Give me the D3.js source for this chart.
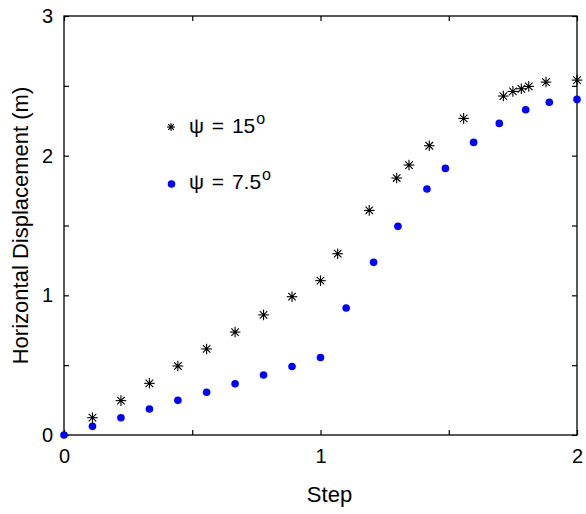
<!DOCTYPE html>
<html>
<head>
<meta charset="utf-8">
<script src="https://cdn.jsdelivr.net/npm/d3@7"></script>
<style>
  body { margin: 0; background: #fff; }
  text { font-family: "Liberation Sans", Arial, sans-serif; fill: #000; }
</style>
</head>
<body>
<div id="chart"></div>
<script>
// step values (x) and horizontal displacement (y)
const stepsPsi15 = [0.111, 0.222, 0.333, 0.444, 0.556, 0.667, 0.778, 0.889, 1.0,
                    1.067, 1.19, 1.297, 1.345, 1.424, 1.558, 1.713, 1.75, 1.783, 1.812, 1.879, 2.0];
const dispPsi15 = [0.124, 0.246, 0.370, 0.494, 0.616, 0.737, 0.860, 0.99, 1.105,
                   1.298, 1.608, 1.84, 1.933, 2.071, 2.267, 2.427, 2.46, 2.479, 2.496, 2.527, 2.541];

const stepsPsi75 = [0, 0.111, 0.222, 0.333, 0.444, 0.556, 0.667, 0.778, 0.889, 1.0,
                    1.1, 1.207, 1.302, 1.415, 1.487, 1.597, 1.697, 1.8, 1.892, 2.0];
const dispPsi75 = [0, 0.062, 0.124, 0.186, 0.248, 0.306, 0.367, 0.430, 0.490, 0.555,
                   0.909, 1.236, 1.494, 1.761, 1.909, 2.095, 2.231, 2.329, 2.382, 2.403];

const xTicks = [0, 0.5, 1, 1.5, 2];
const yTicks = [0, 0.5, 1, 1.5, 2, 2.5, 3];

const margin = { top: 16, right: 9, bottom: 79, left: 64 };
const width = 586 - margin.left - margin.right;
const height = 514 - margin.top - margin.bottom;

const svg = d3.select("#chart").append("svg")
    .attr("width", 586)
    .attr("height", 514)
    .append("g")
    .attr("transform", "translate(" + margin.left + "," + margin.top + ")");

const x = d3.scaleLinear().domain([0, 2]).range([0, width]);
const y = d3.scaleLinear().domain([0, 3]).range([height, 0]);

const fmt = d => Number.isInteger(d) ? d : "";

// axes with inward ticks on all four sides
function styleAxis(g) {
    g.select(".domain").remove();
    g.selectAll(".tick line").attr("stroke", "#000").attr("stroke-width", 1.2);
    g.selectAll(".tick text").style("font-size", "20px").attr("fill", "#000");
}

svg.append("g")
    .attr("transform", "translate(0," + height + ")")
    .call(d3.axisBottom(x).tickValues(xTicks).tickFormat(fmt).tickSizeInner(-5).tickPadding(14))
    .call(styleAxis);
svg.append("g")
    .call(d3.axisTop(x).tickValues(xTicks).tickFormat("").tickSizeInner(-5))
    .call(styleAxis);
svg.append("g")
    .call(d3.axisLeft(y).tickValues(yTicks).tickFormat(fmt).tickSizeInner(-5).tickPadding(11))
    .call(styleAxis);
svg.append("g")
    .attr("transform", "translate(" + width + ",0)")
    .call(d3.axisRight(y).tickValues(yTicks).tickFormat("").tickSizeInner(-5))
    .call(styleAxis);

svg.append("rect")
    .attr("width", width)
    .attr("height", height)
    .attr("fill", "none")
    .attr("stroke", "#000")
    .attr("stroke-width", 1.3);

// asterisk marker
function star(g, cx, cy, r) {
    const a = r * 0.7071;
    const segs = [[-r, 0, r, 0], [0, -r, 0, r], [-a, -a, a, a], [-a, a, a, -a]];
    segs.forEach(s => {
        g.append("line")
            .attr("x1", cx + s[0]).attr("y1", cy + s[1])
            .attr("x2", cx + s[2]).attr("y2", cy + s[3])
            .attr("stroke", "#000").attr("stroke-width", 1.1);
    });
    g.append("circle").attr("cx", cx).attr("cy", cy).attr("r", 1.5).attr("fill", "#000");
}

const starG = svg.append("g");
stepsPsi15.forEach((s, i) => star(starG, x(s), y(dispPsi15[i]), 5.3));

svg.selectAll(".dot")
    .data(stepsPsi75)
    .enter()
    .append("circle")
    .attr("class", "dot")
    .attr("cx", d => x(d))
    .attr("cy", (d, i) => y(dispPsi75[i]))
    .attr("r", 3.8)
    .attr("fill", "#0000ff");

// legend
const legend = svg.append("g").attr("transform", "translate(" + (171 - margin.left) + "," + (127 - margin.top) + ")");
star(legend, 0, 0, 4);
legend.append("circle").attr("cx", 0.5).attr("cy", 57).attr("r", 3.8).attr("fill", "#0000ff");

const labels = [["\u03C8 = 15", 6], ["\u03C8 = 7.5", 62]];
labels.forEach(l => {
    const t = legend.append("text")
        .attr("x", 18)
        .attr("y", l[1])
        .style("font-size", "21px")
        .style("word-spacing", "2px");
    t.append("tspan").text(l[0]);
    t.append("tspan").attr("dx", 1).attr("dy", -9).style("font-size", "16px").text("o");
});

// axis titles
svg.append("text")
    .attr("x", width / 2 + 9)
    .attr("y", height + 67)
    .attr("text-anchor", "middle")
    .style("font-size", "22px")
    .text("Step");

svg.append("text")
    .attr("transform", "translate(" + (-36) + "," + (height / 2) + ") rotate(-90)")
    .attr("text-anchor", "middle")
    .style("font-size", "22px")
    .text("Horizontal Displacement (m)");
</script>
</body>
</html>
